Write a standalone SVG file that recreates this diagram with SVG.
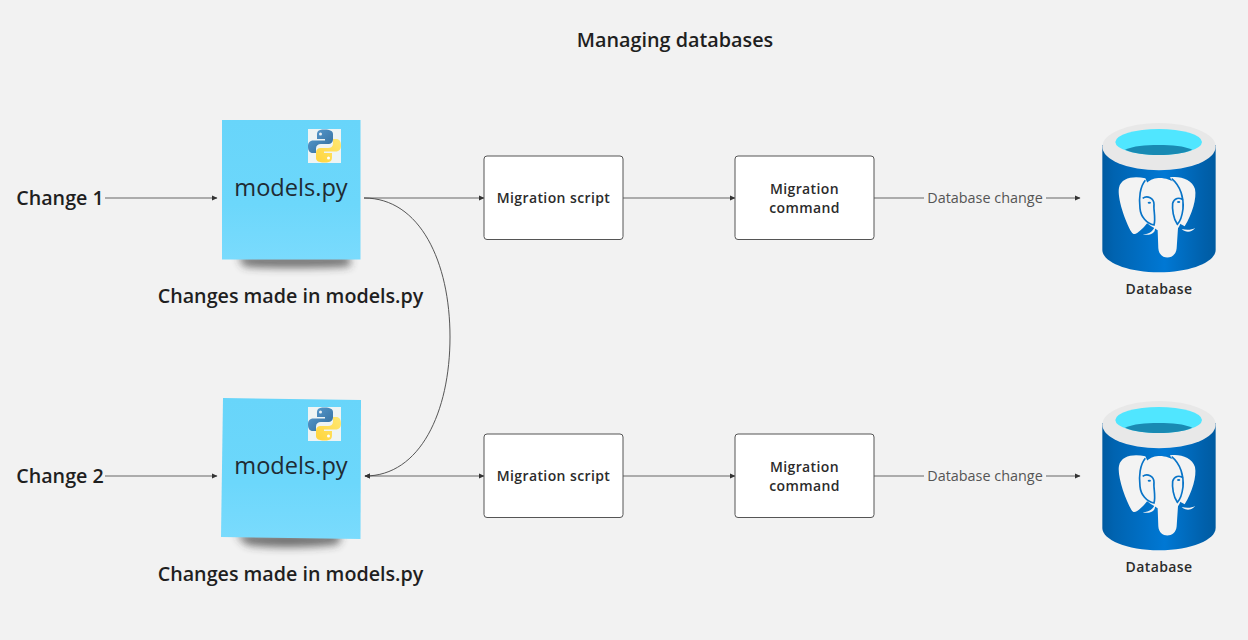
<svg xmlns="http://www.w3.org/2000/svg" width="1248" height="640" viewBox="0 0 1248 640">
<style>
text{font-family:"Open Sans","Noto Sans","Liberation Sans",sans-serif;fill:#1f1f1f}
.h{font-size:19.800px;font-weight:600}
.c{font-size:19.700px;font-weight:600}
.b{font-size:14px;font-weight:600;letter-spacing:.4px;fill:#2b2b2b}
.m{font-size:23.600px;fill:#1f2b33}
.l{font-size:14.400px;fill:#555}
.box{fill:#fff;stroke:#555;stroke-width:1}
.ln{fill:none;stroke:#666;stroke-width:1}
</style>
<defs>
<marker id="a" markerWidth="6" markerHeight="6" refX="5" refY="3" orient="auto-start-reverse" markerUnits="userSpaceOnUse"><path d="M0 .4L5.500 3L0 5.600z" fill="#333"/></marker>
<linearGradient id="cyl" x1="0" x2="1" y1="0" y2="0"><stop offset="0" stop-color="#005ba1"/><stop offset=".1" stop-color="#0063b0"/><stop offset=".55" stop-color="#0078d4"/><stop offset=".9" stop-color="#0060ab"/><stop offset="1" stop-color="#005ba1"/></linearGradient>
<linearGradient id="s1" x1="0" x2="0" y1="0" y2="1"><stop offset="0" stop-color="#68d5fa"/><stop offset=".6" stop-color="#6cd7fb"/><stop offset="1" stop-color="#7adbfd"/></linearGradient>
<linearGradient id="py1" x1="0" x2="1" y1="0" y2="1"><stop offset="0" stop-color="#5a9fd4"/><stop offset="1" stop-color="#306998"/></linearGradient>
<linearGradient id="py2" x1="0" x2="1" y1="1" y2="0"><stop offset="0" stop-color="#ffd43b"/><stop offset="1" stop-color="#ffe873"/></linearGradient>
<filter id="sh" x="-20%" y="-200%" width="140%" height="500%"><feGaussianBlur stdDeviation="4.500"/></filter>
<g id="py">
<rect width="33" height="34" fill="#eef4f4"/>
<path d="M16.500 0.500C9 0.500 9 3 9 7V10H17V11.500H5.500C1.500 11.500 0 14 0 17.500C0 21.500 1.500 24 5 24H8V19.500C8 16.500 10 15 13 15H20.500C23 15 25 13 25 10.500V5C25 2 22 .5 16.500 .5Z" fill="url(#py1)"/>
<path d="M16.500 33.500C24 33.500 24 31 24 27V24H16V22.500H27.500C31.500 22.500 33 20 33 16.500C33 12.500 31.500 10 28 10H25V14.500C25 17.500 23 19 20 19H12.500C10 19 8 21 8 23.500V29C8 32 11 33.500 16.500 33.500Z" fill="url(#py2)"/>
<circle cx="12.500" cy="5" r="1.500" fill="#e8f0f4"/><circle cx="20.500" cy="29" r="1.500" fill="#fff"/>
</g>
<g id="pg">
<path d="M37 90V405C37 440 110 472 207 472C304 472 377 440 377 405V90Z" fill="url(#cyl)"/>
<ellipse cx="207" cy="95" rx="170" ry="71" fill="#e8e8e8"/>
<ellipse cx="206" cy="81" rx="130" ry="39" fill="#50e6ff"/>
<path d="M105 104C130 93 165 90 206 90C247 90 282 93 307 104C282 115 247 120 206 120C165 120 130 115 105 104Z" fill="#198ab3"/>
<path d="M166 190C130 182 94 188 87 218C81 248 105 318 125 352C132 364 144 354 162 336L192 300L175 210Z" fill="#f3f3f3"/>
<path d="M240 187C270 182 307 193 315 222C321 250 306 298 284 334L262 322L255 215Z" fill="#f3f3f3"/>
<path d="M148 250C150 218 175 190 205 189C242 187 278 213 283 250C285 285 276 322 264 340L260 400C257 437 207 437 205 400L203 346C190 335 158 325 150 295Z" fill="#f3f3f3"/>
<path d="M158 358C172 358 188 352 194 335C200 352 182 364 158 358ZM275 342C290 346 305 345 316 339C305 352 288 354 275 342Z" fill="#f3f3f3"/>
<path d="M166 196C150 215 146 250 150 280C152 305 170 326 192 330C198 310 190 285 192 268C192 250 172 240 158 250M245 191C272 213 282 250 279 282C276 305 270 320 262 328C250 312 246 282 248 265C252 250 268 245 280 255" fill="none" stroke="#0874c8" stroke-width="5"/>
<ellipse cx="178" cy="263" rx="5" ry="3" fill="#0874c8"/><ellipse cx="266" cy="261" rx="5" ry="3" fill="#0874c8"/>
</g>
</defs>
<rect width="1248" height="640" fill="#f2f2f2"/>
<g id="connectors">
<path class="ln" d="M105 198H217" marker-end="url(#a)"/>
<path class="ln" d="M364 198H484" marker-end="url(#a)"/>
<path class="ln" d="M623 198H735" marker-end="url(#a)"/>
<path class="ln" d="M874 198H924M1046 198H1080" marker-end="url(#a)"/>
<path class="ln" d="M105 476H217" marker-end="url(#a)"/>
<path class="ln" d="M365 476H484" marker-start="url(#a)" marker-end="url(#a)"/>
<path class="ln" d="M623 476H735" marker-end="url(#a)"/>
<path class="ln" d="M874 476H924M1046 476H1080" marker-end="url(#a)"/>
<path d="M364 198C420 198 450 262 450 337C450 412 420 476 365 476" fill="none" stroke="#444" stroke-width=".9" marker-end="url(#a)"/>
</g>
<text x="675" y="47" text-anchor="middle" class="h">Managing databases</text>
<g id="change1"><text x="60" y="205" text-anchor="middle" class="c">Change 1</text></g>
<g id="change2"><text x="60" y="483" text-anchor="middle" class="c">Change 2</text></g>
<g id="note1">
<path d="M238 256H350L350 266C320 268 262 268 244 266Z" fill="#333" opacity=".7" filter="url(#sh)"/>
<rect x="222" y="120" width="138.500" height="139.500" fill="url(#s1)"/>
<use href="#py" x="308" y="129"/>
<text x="291" y="196" text-anchor="middle" class="m">models.py</text>
</g>
<text x="290.500" y="303" text-anchor="middle" class="c">Changes made in models.py</text>
<g id="note2">
<path d="M236 534H342L338 544C310 548 262 548 246 544Z" fill="#333" opacity=".7" filter="url(#sh)"/>
<path d="M223 398L361 400L360.500 539L221 537Z" fill="url(#s1)"/>
<use href="#py" x="308" y="407"/>
<text x="291" y="474" text-anchor="middle" class="m">models.py</text>
</g>
<text x="290.500" y="581" text-anchor="middle" class="c">Changes made in models.py</text>
<g id="script1"><rect class="box" x="484" y="156" width="139" height="83.500" rx="3"/><text x="553.500" y="203" text-anchor="middle" class="b">Migration script</text></g>
<g id="command1"><rect class="box" x="735" y="156" width="139" height="83.500" rx="3"/><text x="804.500" y="194" text-anchor="middle" class="b">Migration</text><text x="804.500" y="213" text-anchor="middle" class="b">command</text></g>
<g id="script2"><rect class="box" x="484" y="434" width="139" height="83.500" rx="3"/><text x="553.500" y="481" text-anchor="middle" class="b">Migration script</text></g>
<g id="command2"><rect class="box" x="735" y="434" width="139" height="83.500" rx="3"/><text x="804.500" y="472" text-anchor="middle" class="b">Migration</text><text x="804.500" y="491" text-anchor="middle" class="b">command</text></g>
<text x="985" y="203" text-anchor="middle" class="l">Database change</text>
<text x="985" y="481" text-anchor="middle" class="l">Database change</text>
<g id="db1"><use href="#pg" transform="translate(1090 115) scale(.3333)"/><text x="1159" y="294" text-anchor="middle" class="b">Database</text></g>
<g id="db2"><use href="#pg" transform="translate(1090 393) scale(.3333)"/><text x="1159" y="572" text-anchor="middle" class="b">Database</text></g>
</svg>
